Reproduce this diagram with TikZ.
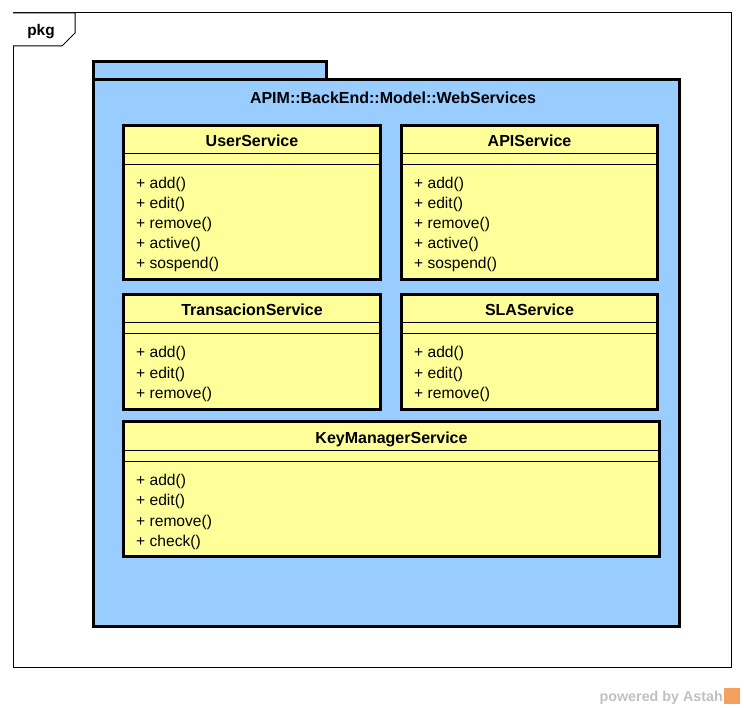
\documentclass[tikz,border=0pt]{standalone}
\usepackage{fontspec}
\setmainfont{Liberation Sans}
\usetikzlibrary{positioning,calc}

\definecolor{pkgblue}{HTML}{99CCFF}
\definecolor{clsyellow}{HTML}{FFFF99}
\definecolor{markgray}{HTML}{C0C0C0}
\definecolor{markorange}{HTML}{F5A05F}

\begin{document}
\begin{tikzpicture}[x=1pt,y=-1pt,
			frame/.style={draw=black, line width=1pt},
			pkgbox/.style={draw=black, line width=3pt, fill=pkgblue},
			classbox/.style={rectangle, draw=black, line width=3pt, fill=clsyellow, anchor=north west, inner sep=0, outer sep=0},
			classname/.style={font=\bfseries\fontsize{16}{19}\selectfont, inner sep=0, anchor=base},
			op/.style={font=\fontsize{15.6}{20}\selectfont, inner sep=0, anchor=base west},
			sep/.style={line width=1pt}]

			\useasboundingbox (0,0) rectangle (744,708);

			% outer frame with its tab
			\draw[frame] (13,13) rectangle (731,667);
			\draw[frame, fill=white] (13,13) -- (75,13) -- (75,33) -- (62,46) -- (13,46);
			\node[font=\bfseries\fontsize{15.4}{18}\selectfont, inner sep=0, anchor=base] (pkg) at (41,36) {pkg};

			% package
			\draw[pkgbox] (93.5,61.5) rectangle (326.5,80);
			\draw[pkgbox] (93.5,80) rectangle (679.5,626.5);
			\node[classname] (pkgname) at (393,103.3) {APIM::BackEnd::Model::WebServices};

			% classes
			\node[classbox, minimum width=257, minimum height=154] (user) at (123.5,125.5) {};
			\node[classbox, minimum width=256, minimum height=154] (api) at (401.5,125.5) {};
			\node[classbox, minimum width=257, minimum height=115] (trans) at (123.5,294.5) {};
			\node[classbox, minimum width=256, minimum height=115] (sla) at (401.5,294.5) {};
			\node[classbox, minimum width=536, minimum height=135] (key) at (123.5,421.5) {};

			\foreach \c/\t in {user/UserService, api/APIService, trans/TransacionService, sla/SLAService, key/KeyManagerService} {
				\node[classname] (\c-name) at ([yshift=-21.5pt]\c.north) {\t};
				\draw[sep] ([yshift=-28.5pt]\c.north west) -- ([yshift=-28.5pt]\c.north east);
				\draw[sep] ([yshift=-39.5pt]\c.north west) -- ([yshift=-39.5pt]\c.north east);
			}

			\foreach \m [count=\i from 0] in {add,edit,remove,active,sospend} {
				\node[op] (user-\i) at ([xshift=12.5pt, yshift={-63.5pt-20pt*\i}]user.north west) {+ \m()};
				\node[op] (api-\i) at ([xshift=12.5pt, yshift={-63.5pt-20pt*\i}]api.north west) {+ \m()};
			}
			\foreach \m [count=\i from 0] in {add,edit,remove} {
				\node[op] (trans-\i) at ([xshift=12.5pt, yshift={-63.5pt-20pt*\i}]trans.north west) {+ \m()};
				\node[op] (sla-\i) at ([xshift=12.5pt, yshift={-63.5pt-20pt*\i}]sla.north west) {+ \m()};
			}
			\foreach \m [count=\i from 0] in {add,edit,remove,check}
				\node[op] (key-\i) at ([xshift=12.5pt, yshift={-63.5pt-20.5pt*\i}]key.north west) {+ \m()};

			% watermark
			\node[font=\bfseries\fontsize{14.3}{17}\selectfont, text=markgray, inner sep=0, anchor=base east] (mark) at (723,701.5) {powered by Astah};
			\node[fill=markorange, minimum size=16, inner sep=0, anchor=south west] (logo) at (724,704) {};
		\end{tikzpicture}
\end{document}
